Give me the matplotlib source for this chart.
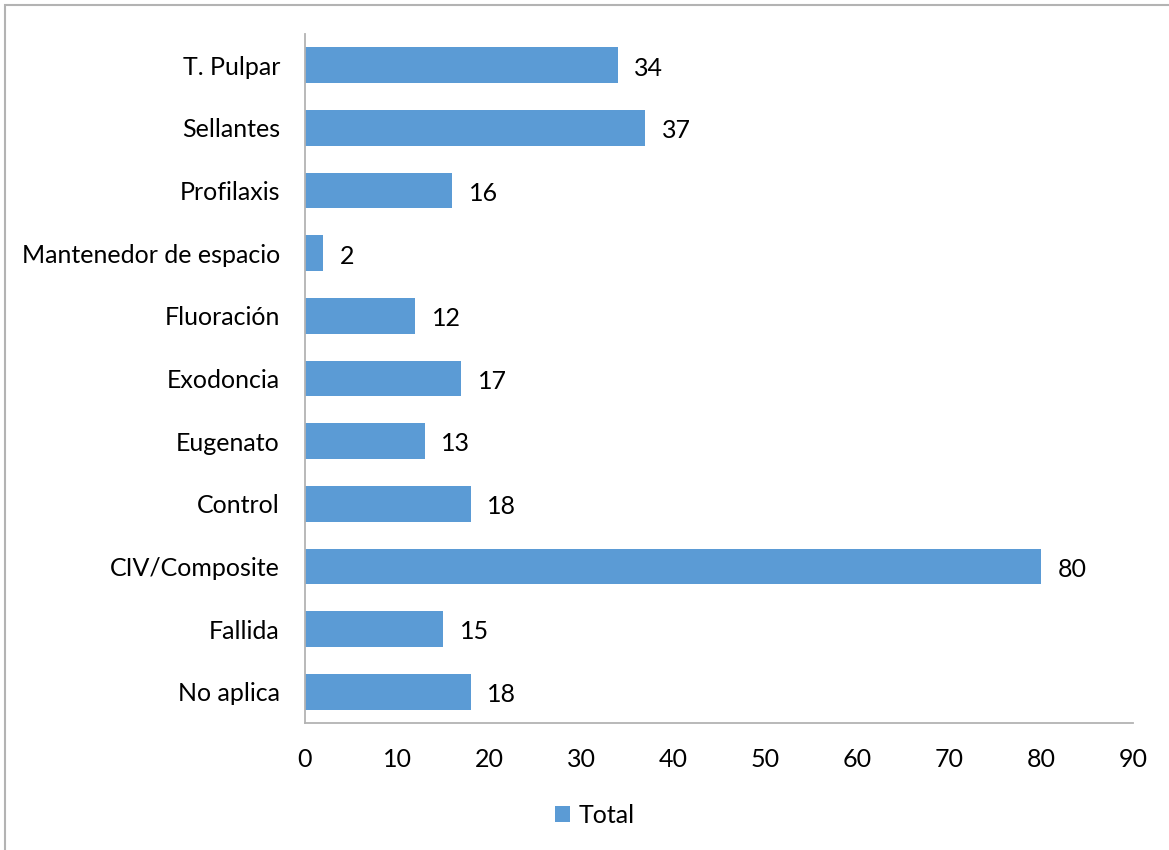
import matplotlib.pyplot as plt
from matplotlib.patches import Rectangle

categories = ['No aplica', 'Fallida', 'CIV/Composite', 'Control', 'Eugenato',
              'Exodoncia', 'Fluoración', 'Mantenedor de espacio', 'Profilaxis',
              'Sellantes', 'T. Pulpar']
totals = [18, 15, 80, 18, 13, 17, 12, 2, 16, 37, 34]
xticks = [0, 10, 20, 30, 40, 50, 60, 70, 80, 90]

BAR_COLOR = '#5B9BD5'
AXIS_COLOR = '#B3B3B3'
FONT_SIZE = 18

plt.rcParams['font.family'] = ['Lato', 'DejaVu Sans']

fig = plt.figure(figsize=(11.69, 8.5), dpi=100)
ax = fig.add_axes([0.2609, 0.1494, 0.7083, 0.8106])

positions = range(len(categories))
bars = ax.barh(positions, totals, height=0.57, color=BAR_COLOR, label='Total')

for bar, value in zip(bars, totals):
    ax.annotate(f'{value}', xy=(bar.get_width(), bar.get_y() + bar.get_height() / 2),
                xytext=(12, -2), textcoords='offset points',
                va='center', ha='left', fontsize=FONT_SIZE, color='black')

ax.set_xlim(0, 90)
ax.set_ylim(-0.5, len(categories) - 0.5)
ax.set_xticks(xticks)
ax.set_yticks(list(positions))
ax.set_yticklabels(categories)
ax.tick_params(axis='both', length=0, labelsize=FONT_SIZE)
ax.tick_params(axis='x', pad=18)
ax.tick_params(axis='y', pad=18)

for side in ('top', 'right'):
    ax.spines[side].set_visible(False)
for side in ('left', 'bottom'):
    ax.spines[side].set_color(AXIS_COLOR)
    ax.spines[side].set_linewidth(1.3)

fig.legend(handles=[bars], labels=['Total'], loc='center', bbox_to_anchor=(0.509, 0.041),
           frameon=False, fontsize=FONT_SIZE, handlelength=0.6, handleheight=0.6,
           handletextpad=0.35)

# outer chart border
fig.patches.append(Rectangle((5 / 1169, -0.05), 1.2, 1.05 - 4.5 / 850,
                             transform=fig.transFigure, fill=False,
                             edgecolor=AXIS_COLOR, linewidth=1.5))

fig.savefig('out.png', dpi=100)
